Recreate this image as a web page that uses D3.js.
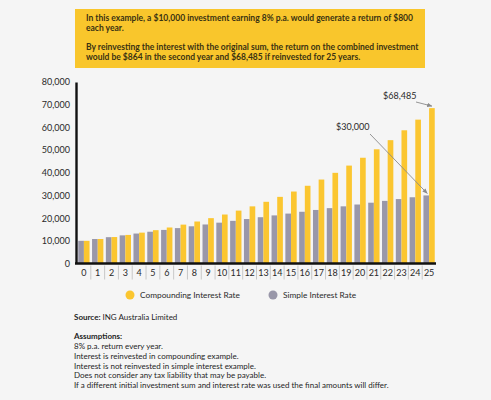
<!DOCTYPE html>
<html>
<head>
<meta charset="utf-8">
<script src="https://cdn.jsdelivr.net/npm/d3@7"></script>
<style>
  html, body { margin: 0; padding: 0; background: #f5f5f5; }
  svg { display: block; font-family: Lato, "Open Sans", sans-serif; }
</style>
</head>
<body>
<script>
// Compounding vs simple interest, $10,000 at 8% p.a.

const years = d3.range(0, 26).map(String);

const compounding = [
  10000, 10800, 11664, 12597, 13605, 14693, 15869, 17138, 18509, 19990,
  21589, 23316, 25182, 27196, 29372, 31722, 34259, 37000, 39960, 43157,
  46610, 50338, 54365, 58715, 63412, 68485
];

const simple = [
  10000, 10800, 11600, 12400, 13200, 14000, 14800, 15600, 16400, 17200,
  18000, 18800, 19600, 20400, 21200, 22000, 22800, 23600, 24400, 25200,
  26000, 26800, 27600, 28400, 29200, 30000
];

const yTicks = [0, 10000, 20000, 30000, 40000, 50000, 60000, 70000, 80000];

const seriesNames = ['Simple Interest Rate', 'Compounding Interest Rate'];
const legendNames = ['Compounding Interest Rate', 'Simple Interest Rate'];

const boxLines = [
  'In this example, a $10,000 investment earning 8% p.a. would generate a return of $800',
  'each year.',
  'By reinvesting the interest with the original sum, the return on the combined investment',
  'would be $864 in the second year and $68,485 if reinvested for 25 years.'
];

const assumptions = [
  '8% p.a. return every year.',
  'Interest is reinvested in compounding example.',
  'Interest is not reinvested in simple interest example.',
  'Does not consider any tax liability that may be payable.',
  'If a different initial investment sum and interest rate was used the final amounts will differ.'
];

const width = 491, height = 400;

const YELLOW = '#fbc630';
const GREY = '#9997a9';
const colour = { 'Simple Interest Rate': GREY, 'Compounding Interest Rate': YELLOW };

const svg = d3.select('body')
  .append('svg')
    .attr('width', width)
    .attr('height', height);

svg.append('rect')
  .attr('width', width)
  .attr('height', height)
  .attr('fill', '#f5f5f5');

// intro box
svg.append('rect')
  .attr('x', 75)
  .attr('y', 9)
  .attr('width', 350)
  .attr('height', 59)
  .attr('fill', '#f9c62c');

const boxY = [21, 31, 50, 60];
svg.append('g')
  .selectAll('text')
  .data(boxLines)
  .join('text')
    .attr('x', 86)
    .attr('y', (d, i) => boxY[i])
    .attr('font-size', 8.5)
    .attr('font-weight', 'bold')
    .attr('fill', '#3a3212')
    .text(d => d);

// scales
const yScale = d3.scaleLinear()
  .domain([0, 80000])
  .range([263.5, 82]);

const xScale = d3.scaleBand()
  .domain(years)
  .range([77, 436])
  .paddingInner(0)
  .paddingOuter(0);

const xInner = d3.scaleBand()
  .domain(seriesNames)
  .range([0, xScale.bandwidth()])
  .paddingOuter(0.22)
  .paddingInner(0);

const rows = years.map((y, i) => ({
  year: y,
  values: [
    { key: 'Simple Interest Rate', value: simple[i] },
    { key: 'Compounding Interest Rate', value: compounding[i] }
  ]
}));

// bars
svg.append('g')
  .selectAll('g')
  .data(rows)
  .join('g')
    .attr('transform', d => `translate(${xScale(d.year)},0)`)
  .selectAll('rect')
  .data(d => d.values)
  .join('rect')
    .attr('x', d => xInner(d.key))
    .attr('y', d => yScale(d.value))
    .attr('width', xInner.bandwidth())
    .attr('height', d => yScale(0) - yScale(d.value))
    .attr('fill', d => colour[d.key]);

// y axis
const yAxis = svg.append('g')
  .attr('transform', 'translate(76,0)')
  .call(d3.axisLeft(yScale).tickValues(yTicks).tickSize(0).tickPadding(6).tickFormat(d3.format(',')));
yAxis.select('.domain').attr('stroke', '#111').attr('stroke-width', 2.4);
yAxis.selectAll('text')
  .attr('font-size', 9)
  .attr('fill', '#2a2a2a')
  .attr('font-family', 'Lato, sans-serif');

// x axis
const xAxis = svg.append('g')
  .attr('transform', `translate(0,${yScale(0)})`)
  .call(d3.axisBottom(xScale).tickSize(0).tickPadding(6));
xAxis.select('.domain')
  .attr('d', `M75,0H436`)
  .attr('stroke', '#111')
  .attr('stroke-width', 2.4);
xAxis.selectAll('text')
  .attr('font-size', 9)
  .attr('fill', '#2a2a2a')
  .attr('font-family', 'Lato, sans-serif');

// separators between year labels
svg.append('g')
  .selectAll('line')
  .data(years.slice(1))
  .join('line')
    .attr('x1', d => xScale(d))
    .attr('x2', d => xScale(d))
    .attr('y1', yScale(0) + 2)
    .attr('y2', yScale(0) + 16)
    .attr('stroke', '#b5b5b5')
    .attr('stroke-width', 0.7);

// annotations
const defs = svg.append('defs');
defs.append('marker')
  .attr('id', 'arrow')
  .attr('viewBox', '0 0 10 10')
  .attr('refX', 9)
  .attr('refY', 5)
  .attr('markerWidth', 6)
  .attr('markerHeight', 6)
  .attr('orient', 'auto')
  .append('path')
    .attr('d', 'M0,1L10,5L0,9Z')
    .attr('fill', '#8a8a8a');

const lastYear = years[years.length - 1];
const xYellow = xScale(lastYear) + xInner('Compounding Interest Rate') + xInner.bandwidth() / 2;
const xGrey = xScale(lastYear) + xInner('Simple Interest Rate') + xInner.bandwidth() / 2;

svg.append('text')
  .attr('x', 383)
  .attr('y', 99)
  .attr('font-size', 9)
  .attr('fill', '#2a2a2a')
  .text('$' + d3.format(',')(compounding[25]));

svg.append('line')
  .attr('x1', 416).attr('y1', 102)
  .attr('x2', xYellow).attr('y2', yScale(compounding[25]) - 2)
  .attr('stroke', '#8a8a8a')
  .attr('stroke-width', 0.9)
  .attr('marker-end', 'url(#arrow)');

svg.append('text')
  .attr('x', 336)
  .attr('y', 130)
  .attr('font-size', 9)
  .attr('fill', '#2a2a2a')
  .text('$' + d3.format(',')(simple[25]));

svg.append('line')
  .attr('x1', 370).attr('y1', 134)
  .attr('x2', xGrey + 1).attr('y2', yScale(simple[25]) - 2)
  .attr('stroke', '#8a8a8a')
  .attr('stroke-width', 0.9)
  .attr('marker-end', 'url(#arrow)');

// legend
const legendX = [130, 273];
const legend = svg.append('g')
  .selectAll('g')
  .data(legendNames)
  .join('g')
    .attr('transform', (d, i) => `translate(${legendX[i]},295)`);
legend.append('circle')
  .attr('r', 4.5)
  .attr('fill', d => colour[d]);
legend.append('text')
  .attr('x', 10)
  .attr('y', 3)
  .attr('font-size', 8.3)
  .attr('fill', '#2a2a2a')
  .text(d => d);

// source + assumptions
const notes = svg.append('g').attr('font-size', 8).attr('fill', '#1e1e1e');
const src = notes.append('text').attr('x', 74).attr('y', 320);
src.append('tspan').attr('font-weight', 'bold').text('Source:');
src.append('tspan').text(' ING Australia Limited');

notes.append('text')
  .attr('x', 74)
  .attr('y', 339)
  .attr('font-weight', 'bold')
  .text('Assumptions:');

notes.selectAll('.assume')
  .data(assumptions)
  .join('text')
    .attr('class', 'assume')
    .attr('x', 74)
    .attr('y', (d, i) => 349 + i * 9.8)
    .text(d => d);
</script>
</body>
</html>
